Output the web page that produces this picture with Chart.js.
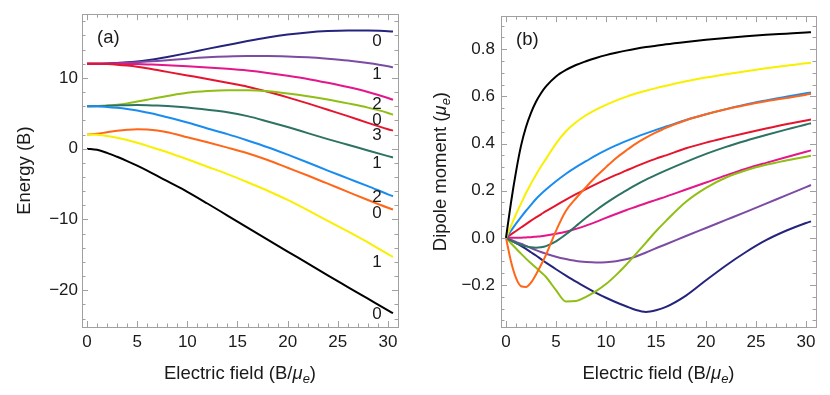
<!DOCTYPE html>
<html>
<head>
<meta charset="utf-8">
<script src="https://cdn.jsdelivr.net/npm/chart.js@4.4.1/dist/chart.umd.min.js"></script>
<style>
  html, body { margin: 0; padding: 0; background: #fff; }
  #wrap { position: relative; width: 830px; height: 395px; }
  canvas { position: absolute; top: 0; }
  #chart-a { left: 0; }
  #chart-b { left: 415px; }
</style>
</head>
<body>
<div id="wrap">
  <canvas id="chart-a" width="415" height="395"></canvas>
  <canvas id="chart-b" width="415" height="395"></canvas>
</div>
<script>
"use strict";

// ---- panel (a): Stark energies, in units of B ----
const FIELD_A = [0, 1, 2, 3, 4, 5, 6, 7, 8, 10, 12, 14, 16, 18, 20, 22, 24, 26, 28, 30, 30.5];

const E_J0M0 = [0, -0.16, -0.6, -1.15, -1.75, -2.4, -3.1, -3.85, -4.6, -6.1, -7.75, -9.45, -11.15, -12.85, -14.55, -16.2, -17.9, -19.55, -21.2, -22.85, -23.25];
const E_J1M1 = [2, 1.95, 1.8, 1.55, 1.22, 0.83, 0.4, -0.05, -0.5, -1.5, -2.55, -3.6, -4.75, -5.95, -7.25, -8.7, -10.2, -11.7, -13.25, -14.9, -15.3];
const E_J1M0 = [2, 2.1, 2.32, 2.52, 2.67, 2.75, 2.72, 2.58, 2.32, 1.62, 0.9, 0.15, -0.65, -1.6, -2.7, -3.8, -4.95, -6.1, -7.25, -8.35, -8.6];
const E_J2M2 = [6, 5.98, 5.9, 5.77, 5.6, 5.38, 5.1, 4.8, 4.45, 3.7, 2.85, 2.05, 1.15, 0.2, -0.85, -1.95, -3.1, -4.2, -5.3, -6.45, -6.72];
const E_J2M1 = [6, 6.01, 6.05, 6.1, 6.15, 6.17, 6.15, 6.1, 6.02, 5.8, 5.5, 5.15, 4.6, 3.85, 3.05, 2.2, 1.35, 0.55, -0.25, -1.05, -1.25];
const E_J2M0 = [6, 6.02, 6.1, 6.22, 6.4, 6.65, 6.92, 7.2, 7.45, 7.9, 8.15, 8.27, 8.25, 8.1, 7.8, 7.42, 6.95, 6.4, 5.8, 5.05, 4.8];
const E_J3M3 = [12, 11.99, 11.95, 11.87, 11.75, 11.58, 11.35, 11.1, 10.85, 10.35, 9.85, 9.3, 8.75, 8.05, 7.25, 6.4, 5.5, 4.6, 3.65, 2.75, 2.55];
const E_J3M2 = [12, 12, 12, 11.99, 11.98, 11.95, 11.9, 11.86, 11.8, 11.65, 11.48, 11.28, 11.03, 10.7, 10.3, 9.85, 9.3, 8.7, 8.0, 7.15, 6.9];
const E_J3M1 = [12, 12.01, 12.03, 12.07, 12.13, 12.2, 12.3, 12.4, 12.5, 12.72, 12.9, 13.02, 13.08, 13.08, 13.02, 12.9, 12.7, 12.45, 12.1, 11.65, 11.5];
const E_J3M0 = [12, 12.01, 12.05, 12.12, 12.2, 12.33, 12.5, 12.7, 12.95, 13.5, 14.1, 14.65, 15.2, 15.7, 16.12, 16.43, 16.62, 16.7, 16.68, 16.6, 16.55];

// ---- panel (b): induced dipole moments, in units of mu_e ----
const FIELD_B = [0, 0.5, 1, 1.5, 2, 2.5, 3, 3.5, 4, 5, 6, 7, 8, 9, 10, 11, 12, 13, 14, 15, 16, 18, 20, 22, 24, 26, 28, 30, 30.5];

const D_J0M0 = [0, 0.15, 0.28, 0.39, 0.47, 0.53, 0.577, 0.613, 0.642, 0.684, 0.712, 0.733, 0.749, 0.763, 0.775, 0.785, 0.794, 0.802, 0.809, 0.815, 0.821, 0.831, 0.84, 0.848, 0.855, 0.861, 0.866, 0.871, 0.872];
const D_J1M1 = [0, 0.05, 0.1, 0.145, 0.19, 0.23, 0.268, 0.303, 0.335, 0.4, 0.452, 0.49, 0.52, 0.544, 0.564, 0.582, 0.598, 0.612, 0.624, 0.635, 0.645, 0.664, 0.68, 0.694, 0.707, 0.719, 0.73, 0.74, 0.743];
const D_J1M0 = [0, -0.1, -0.17, -0.205, -0.208, -0.19, -0.155, -0.115, -0.072, 0.03, 0.115, 0.168, 0.215, 0.26, 0.3, 0.338, 0.37, 0.4, 0.425, 0.447, 0.467, 0.499, 0.524, 0.545, 0.563, 0.579, 0.593, 0.607, 0.611];
const D_J2M2 = [0, 0.03, 0.06, 0.088, 0.115, 0.14, 0.165, 0.186, 0.205, 0.24, 0.272, 0.3, 0.325, 0.35, 0.372, 0.392, 0.41, 0.427, 0.443, 0.458, 0.472, 0.5, 0.524, 0.546, 0.566, 0.583, 0.599, 0.613, 0.617];
const D_J2M1 = [0, -0.012, -0.022, -0.03, -0.036, -0.04, -0.042, -0.04, -0.035, -0.015, 0.015, 0.05, 0.085, 0.117, 0.147, 0.175, 0.2, 0.225, 0.247, 0.267, 0.286, 0.322, 0.356, 0.386, 0.412, 0.436, 0.459, 0.481, 0.486];
const D_J2M0 = [0, -0.023, -0.045, -0.067, -0.088, -0.108, -0.127, -0.146, -0.166, -0.222, -0.27, -0.268, -0.25, -0.226, -0.196, -0.158, -0.115, -0.068, -0.02, 0.028, 0.072, 0.153, 0.212, 0.256, 0.287, 0.31, 0.328, 0.344, 0.348];
const D_J3M3 = [0, 0.015, 0.029, 0.044, 0.058, 0.073, 0.087, 0.1, 0.113, 0.138, 0.162, 0.185, 0.207, 0.228, 0.248, 0.267, 0.285, 0.303, 0.32, 0.336, 0.35, 0.38, 0.404, 0.425, 0.445, 0.464, 0.482, 0.498, 0.502];
const D_J3M2 = [0, 0, 0, 0.001, 0.002, 0.003, 0.005, 0.007, 0.01, 0.017, 0.026, 0.038, 0.052, 0.068, 0.085, 0.101, 0.117, 0.132, 0.147, 0.161, 0.175, 0.205, 0.235, 0.265, 0.293, 0.318, 0.342, 0.365, 0.371];
const D_J3M1 = [0, -0.008, -0.017, -0.025, -0.034, -0.043, -0.052, -0.06, -0.067, -0.08, -0.09, -0.098, -0.102, -0.104, -0.103, -0.099, -0.091, -0.079, -0.062, -0.044, -0.027, 0.008, 0.042, 0.076, 0.11, 0.145, 0.18, 0.215, 0.224];
const D_J3M0 = [0, -0.011, -0.022, -0.034, -0.047, -0.061, -0.075, -0.09, -0.105, -0.133, -0.16, -0.186, -0.21, -0.233, -0.254, -0.273, -0.29, -0.306, -0.314, -0.307, -0.293, -0.245, -0.18, -0.117, -0.06, -0.01, 0.03, 0.063, 0.07];

// tick labels
const X_TICKS = [0, 5, 10, 15, 20, 25, 30];
const Y_TICKS_A = [-20, -10, 0, 10];
const Y_TICKS_B = [-0.2, 0, 0.2, 0.4, 0.6, 0.8];

// |M| label written next to each level in panel (a)
const STATES = [
  { name: "J0M0", m: "0", color: "#000000", energy: E_J0M0, dipole: D_J0M0 },
  { name: "J1M1", m: "1", color: "#f8f000", energy: E_J1M1, dipole: D_J1M1, drop: 15 },
  { name: "J1M0", m: "0", color: "#ff6619", energy: E_J1M0, dipole: D_J1M0 },
  { name: "J2M2", m: "2", color: "#1a8cf0", energy: E_J2M2, dipole: D_J2M2, drop: 7 },
  { name: "J2M1", m: "1", color: "#2e7263", energy: E_J2M1, dipole: D_J2M1 },
  { name: "J2M0", m: "0", color: "#8fbe14", energy: E_J2M0, dipole: D_J2M0 },
  { name: "J3M3", m: "3", color: "#e5152e", energy: E_J3M3, dipole: D_J3M3 },
  { name: "J3M2", m: "2", color: "#e4168a", energy: E_J3M2, dipole: D_J3M2 },
  { name: "J3M1", m: "1", color: "#7c4ca3", energy: E_J3M1, dipole: D_J3M1 },
  { name: "J3M0", m: "0", color: "#25247d", energy: E_J3M0, dipole: D_J3M0 },
];

const FONT = "'Liberation Sans', Arial, Helvetica, sans-serif";
const FRAME_COLOR = "#a0a0a0";
const TEXT_COLOR = "#1a1a1a";
const LABEL_FIELD = 28.9;

function points(xs, ys) {
  return xs.map((x, i) => ({ x, y: ys[i] }));
}

// rich text: plain / italic / subscript parts, centred on (cx, baseline)
function drawRich(ctx, parts, cx, base, rotate) {
  const size = 18.5;
  const fontOf = (p) => `${p.italic ? "italic " : ""}${p.sub ? 13 : size}px ${FONT}`;
  let width = 0;
  for (const p of parts) {
    ctx.font = fontOf(p);
    width += ctx.measureText(p.t).width;
  }
  ctx.save();
  ctx.translate(cx, base);
  if (rotate) ctx.rotate(-Math.PI / 2);
  ctx.fillStyle = TEXT_COLOR;
  ctx.textBaseline = "alphabetic";
  ctx.textAlign = "left";
  let x = -width / 2;
  for (const p of parts) {
    ctx.font = fontOf(p);
    ctx.fillText(p.t, x, p.sub ? 4 : 0);
    x += ctx.measureText(p.t).width;
  }
  ctx.restore();
}

const FIELD_TITLE = [{ t: "Electric field (B/" }, { t: "\u03bc", italic: true }, { t: "e", italic: true, sub: true }, { t: ")" }];

// Mathematica-like frame with inward major and minor ticks on all four sides
const framePlugin = {
  id: "frame",
  afterDatasetsDraw(chart, args, opts) {
    const { ctx, chartArea: a, scales: { x, y } } = chart;
    ctx.save();
    ctx.strokeStyle = FRAME_COLOR;
    ctx.lineWidth = 1;
    ctx.beginPath();
    const eps = 1e-6;
    for (let i = Math.ceil(x.min / opts.xMinor); i * opts.xMinor < x.max; i++) {
      const v = i * opts.xMinor;
      const px = Math.round(x.getPixelForValue(v)) + 0.5;
      const major = Math.abs(v / opts.xMajor - Math.round(v / opts.xMajor)) < eps;
      const len = major ? 6 : 3.5;
      ctx.moveTo(px, a.bottom); ctx.lineTo(px, a.bottom - len);
      ctx.moveTo(px, a.top); ctx.lineTo(px, a.top + len);
    }
    for (let i = Math.ceil(y.min / opts.yMinor - eps); i * opts.yMinor < y.max; i++) {
      const v = i * opts.yMinor;
      const py = Math.round(y.getPixelForValue(v)) + 0.5;
      const major = Math.abs(v / opts.yMajor - Math.round(v / opts.yMajor)) < eps;
      const len = major ? 6 : 3.5;
      ctx.moveTo(a.left, py); ctx.lineTo(a.left + len, py);
      ctx.moveTo(a.right, py); ctx.lineTo(a.right - len, py);
    }
    ctx.stroke();
    ctx.strokeRect(Math.round(a.left) + 0.5, Math.round(a.top) + 0.5,
      Math.round(a.right - a.left), Math.round(a.bottom - a.top));

    ctx.fillStyle = TEXT_COLOR;
    ctx.font = `18.5px ${FONT}`;
    ctx.textAlign = "left";
    ctx.textBaseline = "alphabetic";
    ctx.fillText(opts.letter, a.left + 15, a.top + 29);

    if (opts.levelLabels) {
      ctx.font = `17px ${FONT}`;
      ctx.textAlign = "center";
      ctx.textBaseline = "middle";
      const px = x.getPixelForValue(LABEL_FIELD);
      chart.data.datasets.forEach((ds) => {
        const d = ds.data;
        const k = d.findIndex((p) => p.x > LABEL_FIELD);
        const p0 = d[k - 1], p1 = d[k];
        const v = p0.y + (p1.y - p0.y) * (LABEL_FIELD - p0.x) / (p1.x - p0.x);
        ctx.fillText(ds.mLabel, px, y.getPixelForValue(v) + (ds.drop || 10));
      });
    }

    drawRich(ctx, FIELD_TITLE, (a.left + a.right) / 2, 379, false);
    drawRich(ctx, opts.yTitle, opts.yTitleX, (a.top + a.bottom) / 2, true);
    ctx.restore();
  },
};

function makeChart(id, xs, key, cfg) {
  return new Chart(document.getElementById(id), {
    type: "line",
    data: {
      datasets: STATES.map((s) => ({
        label: s.name,
        mLabel: s.m,
        drop: s.drop,
        data: points(xs, s[key]),
        borderColor: s.color,
        borderWidth: 2,
        pointRadius: 0,
        fill: false,
        cubicInterpolationMode: "monotone",
      })),
    },
    options: {
      responsive: false,
      animation: false,
      devicePixelRatio: 1,
      layout: { padding: { left: 0, right: cfg.padRight, top: 10, bottom: 0 } },
      plugins: {
        legend: { display: false },
        tooltip: { enabled: false },
        frame: cfg.frame,
      },
      scales: {
        x: {
          type: "linear",
          min: -0.5,
          max: 31,
          grid: { display: false, drawTicks: false },
          border: { display: false },
          ticks: { color: TEXT_COLOR, font: { family: FONT, size: 17 }, padding: 5, maxRotation: 0 },
          afterBuildTicks: (scale) => { scale.ticks = X_TICKS.map((v) => ({ value: v })); },
          afterFit: (scale) => { scale.height = 68; },
        },
        y: {
          type: "linear",
          min: cfg.yMin,
          max: cfg.yMax,
          grid: { display: false, drawTicks: false },
          border: { display: false },
          ticks: {
            color: TEXT_COLOR,
            font: { family: FONT, size: 17 },
            padding: cfg.yPad,
            callback: cfg.yFormat,
          },
          afterBuildTicks: (scale) => { scale.ticks = cfg.yTicks.map((v) => ({ value: v })); },
          afterFit: (scale) => { scale.width = cfg.yWidth; },
        },
      },
    },
    plugins: [framePlugin],
  });
}

makeChart("chart-a", FIELD_A, "energy", {
  padRight: 17,
  yMin: -25.2,
  yMax: 19,
  yWidth: 82,
  yPad: 4,
  yTicks: Y_TICKS_A,
  yFormat: (v) => String(v).replace("-", "\u2212"),
  frame: {
    letter: "(a)", xMajor: 5, xMinor: 1, yMajor: 10, yMinor: 2, levelLabels: true,
    yTitle: [{ t: "Energy (B)" }], yTitleX: 30,
  },
});

makeChart("chart-b", FIELD_B, "dipole", {
  padRight: 14,
  yMin: -0.378,
  yMax: 0.94,
  yWidth: 86,
  yPad: 6,
  yTicks: Y_TICKS_B,
  yFormat: (v) => Number(v).toFixed(1).replace("-", "\u2212"),
  frame: {
    letter: "(b)", xMajor: 5, xMinor: 1, yMajor: 0.2, yMinor: 0.05, levelLabels: false,
    yTitle: [{ t: "Dipole moment (" }, { t: "\u03bc", italic: true }, { t: "e", italic: true, sub: true }, { t: ")" }],
    yTitleX: 31,
  },
});
</script>
</body>
</html>
